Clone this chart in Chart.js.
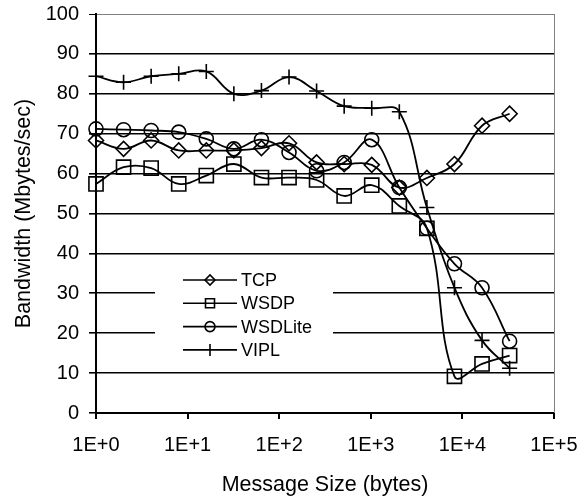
<!DOCTYPE html>
<html>
<head>
<meta charset="utf-8">
<script src="https://cdn.jsdelivr.net/npm/chart.js@4"></script>
<style>
  html, body { margin: 0; padding: 0; background: #fff; }
  #wrap { width: 587px; height: 499px; }
</style>
</head>
<body>
<div id="wrap"><canvas id="bwChart" width="587" height="499"></canvas></div>
<script>
// message sizes (bytes)
const sizes = [1, 2, 4, 8, 16, 32, 64, 128, 256, 512, 1024, 2048, 4096, 8192, 16384, 32768];
// bandwidth in Mbytes/sec
const tcp     = [68.3, 66.2, 68.3, 65.8, 65.8, 65.8, 66.4, 67.6, 62.8, 62.4, 62.2, 56.5, 58.9, 62.4, 72.0, 75.0];
const wsdp    = [57.4, 61.6, 61.4, 57.4, 59.5, 62.4, 59.0, 59.0, 58.4, 54.4, 57.1, 51.9, 46.3, 9.2, 12.3, 14.4];
const wsdlite = [71.2, 71.0, 70.8, 70.4, 68.7, 66.2, 68.5, 65.3, 60.7, 62.8, 68.5, 56.5, 46.3, 37.4, 31.4, 18.0];
const vipl    = [84.4, 82.9, 84.4, 85.0, 85.6, 80.0, 80.8, 84.2, 80.7, 76.9, 76.4, 75.5, 51.5, 31.4, 18.2, 11.2];
const xTicks  = [1, 10, 100, 1000, 10000, 100000];

const FONT = "'Liberation Sans', Arial, sans-serif";

function pts(arr) {
  return arr.map((v, i) => ({ x: sizes[i], y: v }));
}

function series(label, arr, style, radius) {
  return {
    label: label,
    data: pts(arr),
    borderColor: '#000',
    borderWidth: 1.8,
    backgroundColor: 'rgba(0,0,0,0)',
    pointStyle: style,
    pointRadius: radius,
    pointBorderColor: '#000',
    pointBorderWidth: 1.6,
    pointBackgroundColor: 'rgba(0,0,0,0)',
    tension: 0.4,
    clip: false,
    fill: false
  };
}

// small marker drawer for the legend
function marker(ctx, style, x, y, r) {
  ctx.beginPath();
  if (style === 'rectRot') {
    ctx.moveTo(x - r, y); ctx.lineTo(x, y - r); ctx.lineTo(x + r, y); ctx.lineTo(x, y + r); ctx.closePath();
  } else if (style === 'rect') {
    ctx.rect(x - r, y - r, 2 * r, 2 * r);
  } else if (style === 'circle') {
    ctx.arc(x, y, r, 0, Math.PI * 2);
  } else if (style === 'cross') {
    ctx.moveTo(x, y - r); ctx.lineTo(x, y + r);
  }
  ctx.stroke();
}

const legendBox = {
  id: 'legendBox',
  afterDatasetsDraw(chart) {
    const ctx = chart.ctx;
    ctx.save();
    ctx.fillStyle = '#fff';
    ctx.fillRect(155, 266, 178, 97);
    const items = [
      ['TCP', 'rectRot', 5],
      ['WSDP', 'rect', 4.5],
      ['WSDLite', 'circle', 5],
      ['VIPL', 'cross', 6]
    ];
    ctx.strokeStyle = '#000';
    ctx.lineWidth = 1.6;
    ctx.fillStyle = '#000';
    ctx.font = '18px ' + FONT;
    ctx.textBaseline = 'middle';
    items.forEach((it, i) => {
      const y = 280 + i * 23.3;
      ctx.beginPath();
      ctx.moveTo(183, y); ctx.lineTo(237, y);
      ctx.stroke();
      marker(ctx, it[1], 210, y, it[2]);
      ctx.fillText(it[0], 241, y + 1);
    });
    ctx.restore();
  },
  beforeDatasetsDraw(chart) {
    const a = chart.chartArea;
    const ctx = chart.ctx;
    ctx.save();
    ctx.strokeStyle = '#808080';
    ctx.lineWidth = 1;
    ctx.beginPath();
    ctx.moveTo(Math.round(a.right) + 0.5, a.top);
    ctx.lineTo(Math.round(a.right) + 0.5, a.bottom);
    ctx.stroke();
    ctx.restore();
  }
};

new Chart(document.getElementById('bwChart'), {
  type: 'line',
  data: {
    datasets: [
      series('TCP', tcp, 'rectRot', 7.5),
      series('WSDP', wsdp, 'rect', 10),
      series('WSDLite', wsdlite, 'circle', 7),
      series('VIPL', vipl, 'cross', 7.5)
    ]
  },
  options: {
    responsive: false,
    animation: false,
    layout: { autoPadding: false, padding: { left: 0, right: 33, top: 14, bottom: 0 } },
    plugins: {
      legend: { display: false },
      tooltip: { enabled: false }
    },
    scales: {
      x: {
        type: 'logarithmic',
        min: 1,
        max: 100000,
        afterBuildTicks: axis => { axis.ticks = xTicks.map(v => ({ value: v })); },
        afterFit: axis => { axis.height = 86; axis.paddingLeft = 0; axis.paddingRight = 0; },
        ticks: {
          autoSkip: false,
          maxRotation: 0,
          padding: 14,
          color: '#000',
          font: { family: FONT, size: 20 },
          callback: v => '1E+' + Math.round(Math.log10(v))
        },
        grid: { drawOnChartArea: false, tickLength: 6, color: '#000', lineWidth: 2 },
        border: { color: '#000', width: 2 },
        title: {
          display: true,
          text: 'Message Size (bytes)',
          color: '#000',
          font: { family: FONT, size: 21.5 },
          padding: { top: 0, bottom: 1 }
        }
      },
      y: {
        min: 0,
        max: 100,
        afterFit: axis => { axis.width = 96; axis.paddingTop = 0; axis.paddingBottom = 0; },
        ticks: {
          stepSize: 10,
          padding: 10,
          color: '#000',
          font: { family: FONT, size: 20 }
        },
        grid: {
          tickLength: 7,
          tickColor: '#000',
          color: c => c.tick && c.tick.value === 100 ? '#808080' : '#000',
          lineWidth: c => c.tick && c.tick.value === 100 ? 1 : 1.6
        },
        border: { color: '#000', width: 2 },
        title: {
          display: true,
          text: 'Bandwidth (Mbytes/sec)',
          color: '#000',
          font: { family: FONT, size: 21.5 },
          padding: { top: 11, bottom: 0 }
        }
      }
    }
  },
  plugins: [legendBox]
});
</script>
</body>
</html>
